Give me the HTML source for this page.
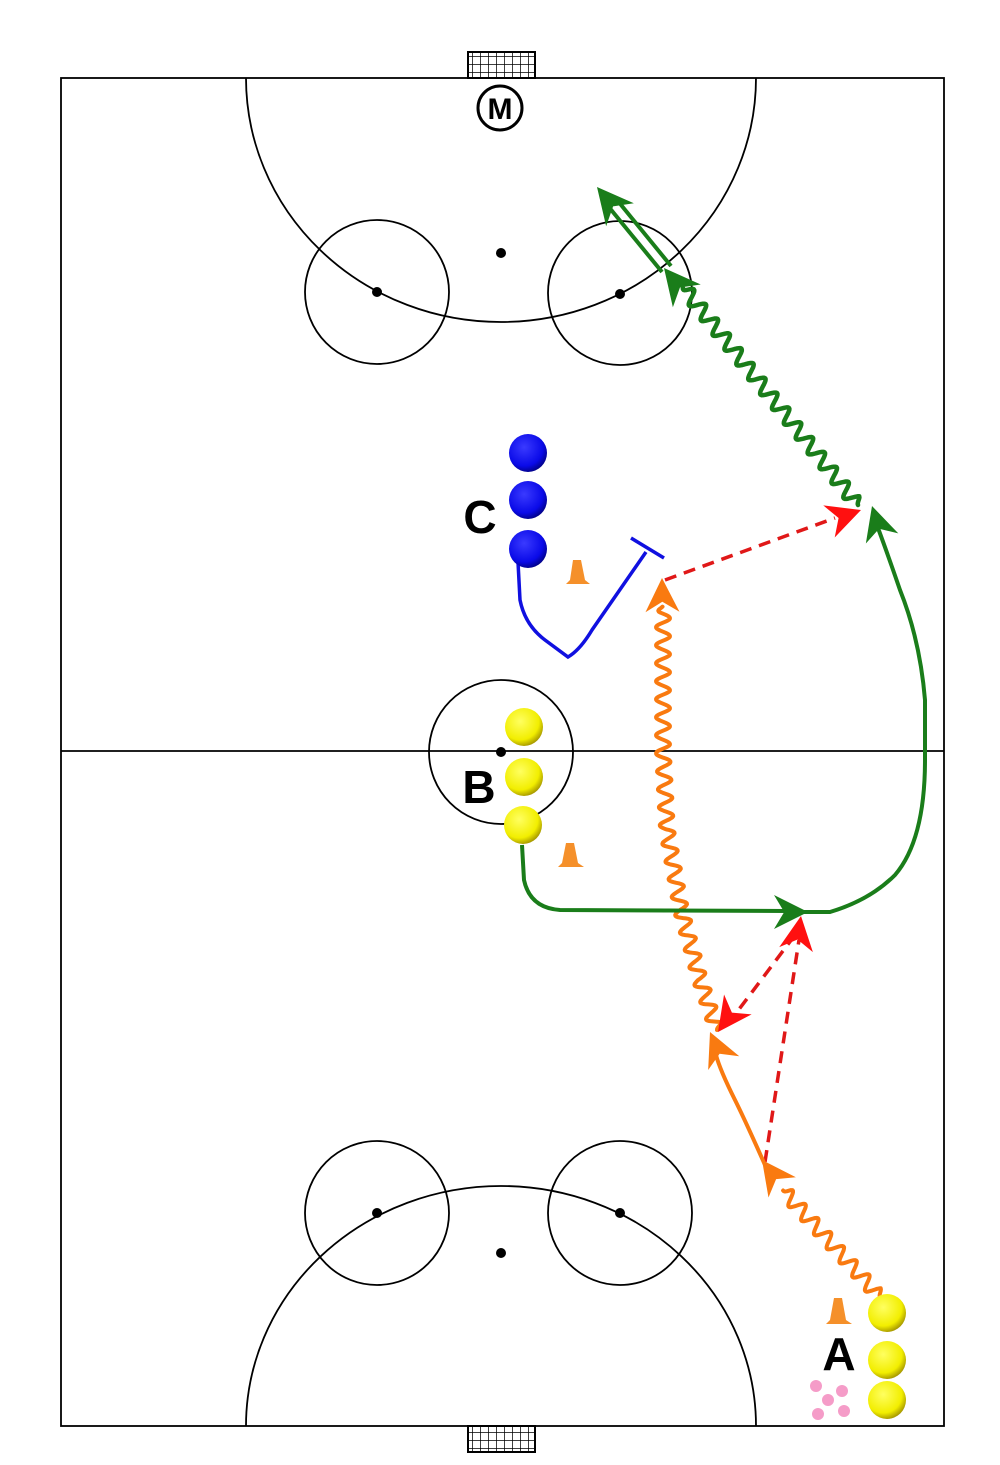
<!DOCTYPE html>
<html><head><meta charset="utf-8">
<style>
html,body{margin:0;padding:0;background:#fff;}
svg{display:block;}
text{font-family:"Liberation Sans","DejaVu Sans",sans-serif;font-weight:bold;}
</style></head>
<body>
<svg id="s" width="1000" height="1465" viewBox="0 0 1000 1465" xmlns="http://www.w3.org/2000/svg">
<defs>
<radialGradient id="yel" cx="0.4" cy="0.35" r="0.7">
<stop offset="0" stop-color="#ffff60"/><stop offset="0.7" stop-color="#f2ee00"/><stop offset="1" stop-color="#9a8a00"/>
</radialGradient>
<radialGradient id="blu" cx="0.4" cy="0.35" r="0.7">
<stop offset="0" stop-color="#3a3aff"/><stop offset="0.7" stop-color="#0a0ae8"/><stop offset="1" stop-color="#00007a"/>
</radialGradient>
<pattern id="net" width="8" height="8" patternUnits="userSpaceOnUse">
<rect width="8" height="8" fill="#fff"/><path d="M0 0H8M0 0V8" stroke="#000" stroke-width="1.5"/>
</pattern>
</defs>
<g fill="none" stroke="#000" stroke-width="1.8">
<rect x="61" y="78" width="883" height="1348"/>
<line x1="61" y1="751" x2="944" y2="751"/>
<path d="M246 78 A255 244 0 0 0 756 78"/>
<path d="M246 1426 A255 240 0 0 1 756 1426"/>
<circle cx="377" cy="292" r="72"/><circle cx="620" cy="293" r="72"/>
<circle cx="377" cy="1213" r="72"/><circle cx="620" cy="1213" r="72"/>
<circle cx="501" cy="752" r="72"/>
</g>
<g fill="#000">
<circle cx="501" cy="253" r="5"/><circle cx="377" cy="292" r="5"/><circle cx="620" cy="294" r="5"/>
<circle cx="501" cy="1253" r="5"/><circle cx="377" cy="1213" r="5"/><circle cx="620" cy="1213" r="5"/>
<circle cx="501" cy="752" r="5"/>
</g>
<rect x="468" y="52" width="67" height="26" fill="url(#net)" stroke="#000" stroke-width="2"/>
<rect x="468" y="1426" width="67" height="26" fill="url(#net)" stroke="#000" stroke-width="2"/>
<circle cx="500" cy="108" r="22" fill="#fff" stroke="#000" stroke-width="3"/>
<text x="500" y="119" font-size="30" text-anchor="middle">M</text>

<g id="lines" fill="none" stroke-linecap="round" stroke-linejoin="round"></g>

<path d="M518 562 L520 600 Q525 625 545 640 L568 657 Q580 650 592 630 L646 552" fill="none" stroke="#1010e0" stroke-width="3.5"/>
<line x1="631" y1="538" x2="664" y2="558" stroke="#1010e0" stroke-width="3.5"/>
<path d="M522 845 L524 880 Q530 908 560 910 L790 911" fill="none" stroke="#1a7d1a" stroke-width="4"/>
<path d="M800 912 L830 912 Q870 900 895 875 Q925 840 925 760 L925 700 Q920 640 900 590 Q888 555 878 528" fill="none" stroke="#1a7d1a" stroke-width="4"/>
<g stroke="#e01818" stroke-width="3.5" stroke-dasharray="12 8" fill="none">
<line x1="665" y1="580" x2="835" y2="518"/>
<line x1="795" y1="935" x2="737" y2="1012"/>
<line x1="765" y1="1162" x2="799" y2="940"/>
</g>
<path d="M765 1165 Q745 1120 735 1100 Q720 1070 716 1055" fill="none" stroke="#f97a10" stroke-width="4"/>
<line x1="662" y1="272" x2="608" y2="206" stroke="#1a7d1a" stroke-width="4"/>
<line x1="671" y1="266" x2="617" y2="200" stroke="#1a7d1a" stroke-width="4"/>

<g id="heads"></g>

<g fill="#f5902a">
<path d="M573 560 L581 560 L585 580 L590 584 L566 584 L570 580Z"/>
<path d="M566 843 L574 843 L578 863 L584 867 L558 867 L562 863Z"/>
<path d="M834 1298 L842 1298 L846 1320 L852 1324 L826 1324 L830 1320Z"/>
</g>
<g fill="url(#blu)">
<circle cx="528" cy="453" r="19"/><circle cx="528" cy="500" r="19"/><circle cx="528" cy="549" r="19"/>
</g>
<g fill="url(#yel)">
<circle cx="524" cy="727" r="19"/><circle cx="524" cy="777" r="19"/><circle cx="523" cy="825" r="19"/>
<circle cx="887" cy="1313" r="19"/><circle cx="887" cy="1360" r="19"/><circle cx="887" cy="1400" r="19"/>
</g>
<g fill="#f59cc8">
<circle cx="816" cy="1386" r="6"/><circle cx="842" cy="1391" r="6"/><circle cx="828" cy="1400" r="6"/>
<circle cx="818" cy="1414" r="6"/><circle cx="844" cy="1411" r="6"/>
</g>
<text x="480" y="533" font-size="46" text-anchor="middle">C</text>
<text x="479" y="803" font-size="46" text-anchor="middle">B</text>
<text x="839" y="1370" font-size="46" text-anchor="middle">A</text>
</svg>
<script>
(function(){
var NS="http://www.w3.org/2000/svg";
function wave(pts,amp,wl){
  var d="",seg=[],tot=0;
  for(var i=0;i<pts.length-1;i++){var dx=pts[i+1][0]-pts[i][0],dy=pts[i+1][1]-pts[i][1],L=Math.hypot(dx,dy);seg.push([pts[i],dx/L,dy/L,L]);tot+=L;}
  for(var t=0;t<=tot;t+=1){
    var acc=0,k=0;while(k<seg.length-1&&acc+seg[k][3]<t){acc+=seg[k][3];k++;}
    var g=seg[k],u=t-acc,x=g[0][0]+g[1]*u,y=g[0][1]+g[2]*u;
    var a=amp*Math.sin(2*Math.PI*t/wl)*Math.min(1,t/6,(tot-t)/6);
    x+=-g[2]*a;y+=g[1]*a;
    d+=(t===0?"M":"L")+x.toFixed(1)+" "+y.toFixed(1);
  }
  return d;
}
function add(par,d,col,w){var p=document.createElementNS(NS,"path");p.setAttribute("d",d);p.setAttribute("stroke",col);p.setAttribute("stroke-width",w);p.setAttribute("fill","none");par.appendChild(p);}
var L=document.getElementById("lines");
add(L,wave([[858,505],[683,287]],7,19),"#1a7d1a",4.5);
add(L,wave([[717,1030],[700,980],[681,910],[667,830],[663,752],[663,606]],7,18),"#f97a10",4);
add(L,wave([[880,1297],[783,1190]],7,19),"#f97a10",4);
function head(tip,from,col,len,wid){
  var dx=tip[0]-from[0],dy=tip[1]-from[1],L=Math.hypot(dx,dy);dx/=L;dy/=L;
  var bx=tip[0]-dx*len,by=tip[1]-dy*len,nx=-dy,ny=dx;
  var mx=tip[0]-dx*len*0.7,my=tip[1]-dy*len*0.7;
  var p=document.createElementNS(NS,"path");
  p.setAttribute("d","M"+tip[0]+" "+tip[1]+"L"+(bx+nx*wid)+" "+(by+ny*wid)+"L"+mx+" "+my+"L"+(bx-nx*wid)+" "+(by-ny*wid)+"Z");
  p.setAttribute("fill",col);document.getElementById("heads").appendChild(p);
}
var G="#1a7d1a",R="#ff1010",O="#f97a10";
head([664,268],[858,505],G,36,18);
head([597,187],[680,287],G,36,18);
head([808,912],[700,912],G,34,17);
head([872,506],[895,580],G,34,17);
head([861,510],[665,580],R,34,17);
head([718,1032],[800,918],R,34,17);
head([801,916],[765,1162],R,34,17);
head([662,578],[663,650],O,34,17);
head([710,1032],[740,1100],O,34,17);
head([762,1160],[790,1198],O,34,17);
})();
</script>
</body></html>
